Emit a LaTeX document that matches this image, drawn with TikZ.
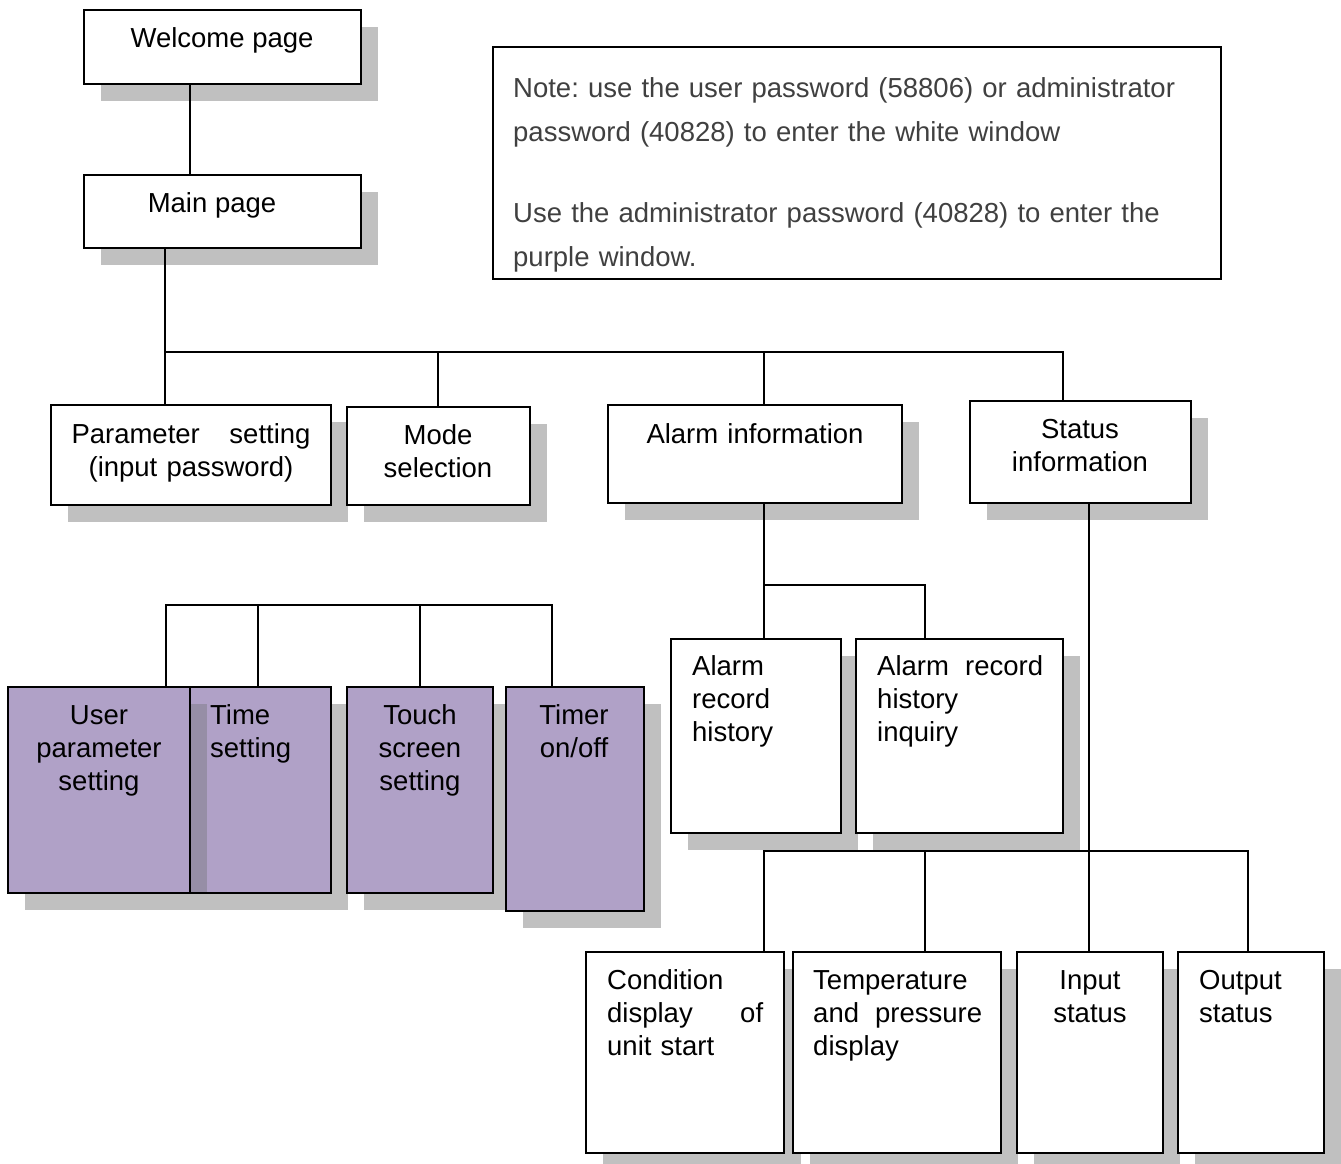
\documentclass[tikz,border=0pt]{standalone}
\usepackage{fontspec}
\setmainfont{Liberation Sans}
\frenchspacing
\definecolor{purp}{RGB}{176,161,199}
\definecolor{shad}{RGB}{192,192,192}
\definecolor{stripc}{RGB}{150,142,166}
\definecolor{notec}{RGB}{64,64,64}
\tikzset{
  boxst/.style={draw=black, line width=1.8pt, inner sep=0pt, rectangle},
  conn/.style={draw=black, line width=1.8pt},
  txt/.style={font=\fontsize{27.5}{33}\selectfont, inner sep=0pt},
}
\newcommand\shbox[6]{%
  \fill[shad] (#2+17,#3+17) rectangle (#4+17,#5+17);
  \node[boxst, fill=#6, minimum width={#4-#2}, minimum height={#5-#3}] (#1) at ({(#2+#4)/2},{(#3+#5)/2}) {};
}
\newcommand\jline[3]{\leavevmode\hbox to #1pt{#2\hfill #3}}
\begin{document}
\begin{tikzpicture}[x=1pt,y=-1pt]
\useasboundingbox (0,0) rectangle (1341,1163);
\fill[white] (0,0) rectangle (1341,1163);

% top boxes
\shbox{welcome}{84}{10}{361}{84}{white}
\shbox{main}{84}{175}{361}{248}{white}
% note box
\node[boxst, fill=white, minimum width=728, minimum height=232] (note) at (857,163) {};

% level 2
\shbox{param}{51}{405}{331}{505}{white}
\shbox{mode}{347}{407}{530}{505}{white}
\shbox{alarm}{608}{405}{902}{503}{white}
\shbox{status}{970}{401}{1191}{503}{white}

% purple boxes
\shbox{user}{8}{687}{190}{893}{purp}
\shbox{time}{190}{687}{331}{893}{purp}
\fill[stripc] (191,704) rectangle (207,892);
\shbox{touch}{347}{687}{493}{893}{purp}
\shbox{timer}{506}{687}{644}{911}{purp}

% alarm sub boxes
\shbox{arh}{671}{639}{841}{833}{white}
\shbox{inq}{856}{639}{1063}{833}{white}

% bottom boxes
\shbox{cond}{586}{952}{784}{1153}{white}
\shbox{temp}{793}{952}{1001}{1153}{white}
\shbox{input}{1017}{952}{1163}{1153}{white}
\shbox{output}{1178}{952}{1324}{1153}{white}

% connectors
\coordinate (jw) at (190,0);
\draw[conn] (welcome.south -| jw) -- (main.north -| jw);
\coordinate (jm) at (165,352);
\coordinate (jmode) at (438,352);
\coordinate (jal) at (764,352);
\coordinate (je) at (1063,352);
\draw[conn] (main.south -| jm) -- (param.north -| jm);
\draw[conn] (jm) -- (je) -- (status.north -| je);
\draw[conn] (jmode) -- (mode.north -| jmode);
\draw[conn] (jal) -- (alarm.north -| jal);

\coordinate (pa) at (166,605);
\coordinate (pb) at (258,605);
\coordinate (pc) at (420,605);
\coordinate (pd) at (552,605);
\draw[conn] (user.north -| pa) -- (pa) -- (pd) -- (timer.north -| pd);
\draw[conn] (pb) -- (time.north -| pb);
\draw[conn] (pc) -- (touch.north -| pc);

\coordinate (aa) at (764,585);
\coordinate (ab) at (925,585);
\draw[conn] (alarm.south -| aa) -- (aa) -- (ab) -- (inq.north -| ab);
\draw[conn] (aa) -- (arh.north -| aa);

\coordinate (sa) at (1089,851);
\coordinate (ba) at (764,851);
\coordinate (bb) at (925,851);
\coordinate (bc) at (1248,851);
\draw[conn] (status.south -| sa) -- (input.north -| sa);
\draw[conn] (cond.north -| ba) -- (ba) -- (bc) -- (output.north -| bc);
\draw[conn] (bb) -- (temp.north -| bb);

% texts
\node[txt, anchor=base] (welcomet) at (222,47) {Welcome page};
\node[txt, anchor=base] (maint) at (212,212) {Main page};
\node[txt, anchor=base, text width=262pt, align=center] (paramt) at (191,443) {\jline{239}{Parameter}{setting}\\(input password)};
\node[txt, anchor=base, text width=170pt, align=center] (modet) at (438,444) {Mode\\selection};
\node[txt, anchor=base, text width=280pt, align=center] (alarmt) at (755,443) {Alarm information};
\node[txt, anchor=base, text width=210pt, align=center] (statust) at (1080,438) {Status\\information};

\node[txt, anchor=base, text width=175pt, align=center] (usert) at (99,724) {User\\parameter\\setting};
\node[txt, anchor=base west, text width=120pt, align=left] (timet) at (210,724) {Time\\setting};
\node[txt, anchor=base, text width=140pt, align=center] (toucht) at (420,724) {Touch\\screen\\setting};
\node[txt, anchor=base, text width=130pt, align=center] (timert) at (574,724) {Timer\\on/off};

\node[txt, anchor=base west, text width=145pt, align=left] (arht) at (692,675) {Alarm\\record\\history};
\node[txt, anchor=base west, text width=180pt, align=left] (inqt) at (877,675) {\jline{166}{Alarm}{record}\\history\\inquiry};

\node[txt, anchor=base west, text width=170pt, align=left] (condt) at (607,989) {Condition\\\jline{156}{display}{of}\\unit start};
\node[txt, anchor=base west, text width=180pt, align=left] (tempt) at (813,989) {Temperature\\\jline{169}{and}{pressure}\\display};
\node[txt, anchor=base, text width=140pt, align=center] (inputt) at (1090,989) {Input\\status};
\node[txt, anchor=base west, text width=130pt, align=left] (outputt) at (1199,989) {Output\\status};

\node[inner sep=0pt, anchor=base west, text width=705pt, align=left, text=notec, font=\fontsize{27.5}{44}\selectfont] (notet) at (513,97)
 {Note: use the user password (58806) or administrator\\password (40828) to enter the white window\\[37pt]Use the administrator password (40828) to enter the\\purple window.};
\end{tikzpicture}
\end{document}
